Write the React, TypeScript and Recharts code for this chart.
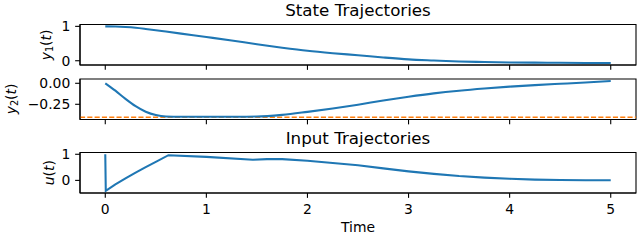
import { LineChart, Line, XAxis, YAxis, ReferenceLine, ReferenceArea } from 'recharts'

// sample times for the two states
const time = [0, 0.1, 0.2, 0.3, 0.4, 0.5, 0.6, 0.75, 1.0, 1.25, 1.5, 1.75, 2.0, 2.25, 2.5, 2.75, 3.0, 3.25, 3.5, 3.75, 4.0, 4.25, 4.5, 4.75, 5.0]
const y1 = [1.0, 0.994, 0.98, 0.958, 0.925, 0.888, 0.848, 0.788, 0.69, 0.59, 0.48, 0.38, 0.29, 0.22, 0.16, 0.095, 0.04, 0.008, -0.02, -0.038, -0.05, -0.056, -0.06, -0.064, -0.065]
const y2 = [0, -0.088, -0.185, -0.272, -0.338, -0.378, -0.395, -0.398, -0.398, -0.398, -0.396, -0.376, -0.34, -0.3, -0.255, -0.205, -0.16, -0.12, -0.088, -0.062, -0.04, -0.022, -0.006, 0.01, 0.028]
const y2Limit = -0.405

// input sampled separately (jump at t=0)
const uTime = [0, 0.005, 0.1, 0.2, 0.3, 0.4, 0.5, 0.625, 1.0, 1.46, 1.6, 1.75, 2.0, 2.25, 2.5, 2.75, 3.0, 3.25, 3.5, 3.75, 4.0, 4.25, 4.5, 4.75, 5.0]
const u = [1.0, -0.4, -0.15, 0.08, 0.3, 0.51, 0.71, 0.965, 0.9, 0.79, 0.815, 0.815, 0.75, 0.665, 0.58, 0.46, 0.345, 0.25, 0.165, 0.105, 0.06, 0.03, 0.012, 0.006, 0.006]

const xTicks = [0, 1, 2, 3, 4, 5]
const y1Ticks = [0, 1]
const y2Ticks = [-0.25, 0]
const uTicks = [0, 1]

const stateData1 = time.map((t, i) => ({ t, v: y1[i] }))
const stateData2 = time.map((t, i) => ({ t, v: y2[i] }))
const inputData = uTime.map((t, i) => ({ t, v: u[i] }))

const xDomain: [number, number] = [-0.25, 5.25]
const font = 'DejaVu Sans'
const fs = 13.9
const blue = '#1f77b4'
const orange = '#ff7f0e'
const spine = { stroke: '#000', strokeWidth: 1.1 }
const tickStyle = { fill: '#000', fontSize: fs, fontFamily: font }
const minus = (s: string) => s.replace('-', '\u2212')

interface PanelProps {
  data: { t: number; v: number }[]
  top: number
  bottom: number
  domain: [number, number]
  yTicks: number[]
  yFormat: (v: number) => string
  showX: boolean
  smooth: boolean
  limit?: number
}

function Panel({ data, top, bottom, domain, yTicks, yFormat, showX, smooth, limit }: PanelProps) {
  return (
    <div style={{ position: 'absolute', left: 0, top: 0 }}>
      <LineChart
        width={640}
        height={240}
        data={data}
        margin={{ top, right: 4, left: 30, bottom: 240 - bottom - 30 }}
      >
        <XAxis
          dataKey="t"
          type="number"
          domain={xDomain}
          ticks={xTicks}
          tickSize={4.86}
          tickMargin={6.3}
          height={30}
          axisLine={spine}
          tickLine={spine}
          tick={tickStyle}
          tickFormatter={(v: number) => (showX ? String(v) : '')}
          allowDataOverflow
        />
        <YAxis
          type="number"
          domain={domain}
          ticks={yTicks}
          width={50}
          tickSize={4.86}
          tickMargin={4.86}
          axisLine={spine}
          tickLine={spine}
          tick={tickStyle}
          tickFormatter={yFormat}
          allowDataOverflow
        />
        {/* axes frame */}
        <ReferenceArea
          x1={xDomain[0]}
          x2={xDomain[1]}
          y1={domain[0]}
          y2={domain[1]}
          fill="none"
          fillOpacity={0}
          stroke="#000"
          strokeWidth={1.1}
          ifOverflow="visible"
        />
        {limit !== undefined && (
          <ReferenceLine y={limit} stroke={orange} strokeWidth={1.4} strokeDasharray="5.1 2.2" />
        )}
        <Line
          dataKey="v"
          type={smooth ? 'monotone' : 'linear'}
          stroke={blue}
          strokeWidth={2.08}
          dot={false}
          isAnimationActive={false}
        />
      </LineChart>
    </div>
  )
}

export default function App() {
  return (
    <div style={{ position: 'absolute', left: 0, top: 0, width: 640, height: 240, background: '#fff' }}>
      <Panel
        data={stateData1}
        top={24.5}
        bottom={65}
        domain={[-0.124, 1.054]}
        yTicks={y1Ticks}
        yFormat={(v) => minus(String(v))}
        showX={false}
        smooth
      />
      <Panel
        data={stateData2}
        top={79}
        bottom={119.5}
        domain={[-0.431, 0.051]}
        yTicks={y2Ticks}
        yFormat={(v) => minus(v.toFixed(2))}
        showX={false}
        smooth
        limit={y2Limit}
      />
      <Panel
        data={inputData}
        top={152.5}
        bottom={193}
        domain={[-0.483, 1.068]}
        yTicks={uTicks}
        yFormat={(v) => minus(String(v))}
        showX
        smooth={false}
      />
      <svg width={640} height={240} style={{ position: 'absolute', left: 0, top: 0 }} fontFamily={font}>
        <text x={358} y={16.3} textAnchor="middle" fontSize={16.7}>State Trajectories</text>
        <text x={358} y={144.2} textAnchor="middle" fontSize={16.7}>Input Trajectories</text>
        <text x={358} y={232} textAnchor="middle" fontSize={fs}>Time</text>
        <text transform="translate(50.6,45) rotate(-90)" textAnchor="middle" fontSize={fs}>
          <tspan fontStyle="italic">y</tspan>
          <tspan fontSize={9.7} dy={2.6}>1</tspan>
          <tspan dy={-2.6}>(</tspan>
          <tspan fontStyle="italic">t</tspan>
          <tspan>)</tspan>
        </text>
        <text transform="translate(15.6,99) rotate(-90)" textAnchor="middle" fontSize={fs}>
          <tspan fontStyle="italic">y</tspan>
          <tspan fontSize={9.7} dy={2.6}>2</tspan>
          <tspan dy={-2.6}>(</tspan>
          <tspan fontStyle="italic">t</tspan>
          <tspan>)</tspan>
        </text>
        <text transform="translate(53.9,172.7) rotate(-90)" textAnchor="middle" fontSize={fs}>
          <tspan fontStyle="italic">u</tspan>
          <tspan>(</tspan>
          <tspan fontStyle="italic">t</tspan>
          <tspan>)</tspan>
        </text>
      </svg>
    </div>
  )
}
